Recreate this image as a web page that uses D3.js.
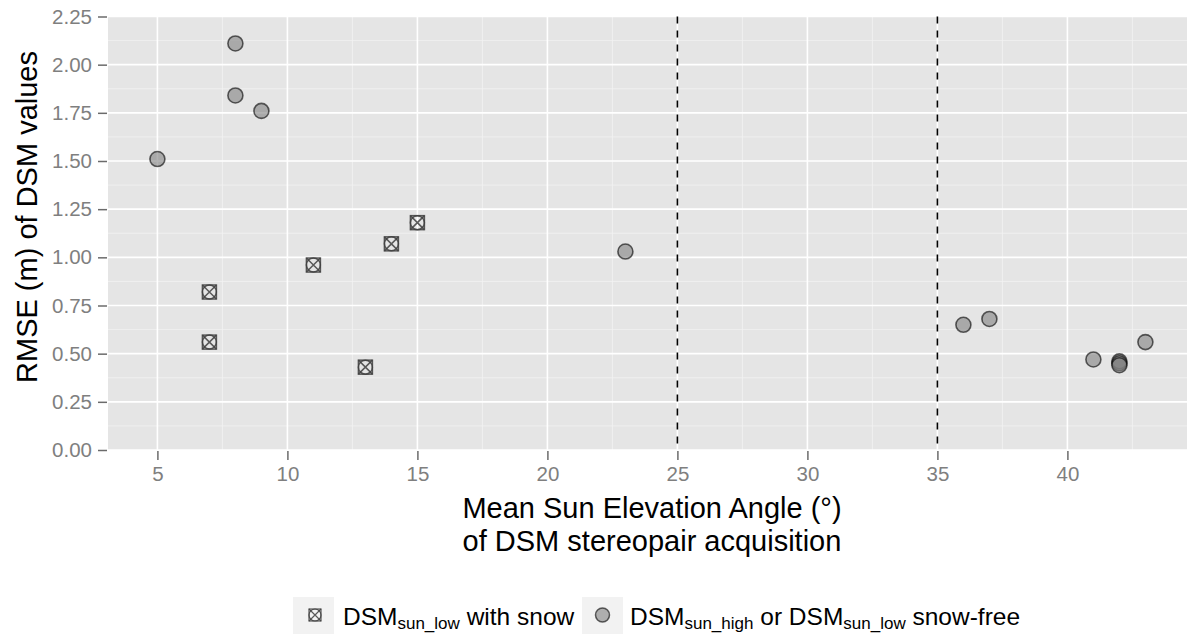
<!DOCTYPE html>
<html>
<head>
<meta charset="utf-8">
<script src="https://cdn.jsdelivr.net/npm/d3@7"></script>
<style>
  body { margin: 0; background: #fff; }
  text { font-family: "Liberation Sans", Arial, sans-serif; }
</style>
</head>
<body>
<svg width="1187" height="634"></svg>
<script>
// data
const snowX = [7, 7, 11, 13, 14, 15];
const snowY = [0.82, 0.56, 0.96, 0.43, 1.07, 1.18];
const freeX = [5, 8, 8, 9, 23, 36, 37, 41, 42, 42, 42, 43];
const freeY = [1.51, 2.11, 1.84, 1.76, 1.03, 0.65, 0.68, 0.47, 0.46, 0.45, 0.44, 0.56];
const xTicks = [5, 10, 15, 20, 25, 30, 35, 40];
const yTicks = [0, 0.25, 0.5, 0.75, 1, 1.25, 1.5, 1.75, 2, 2.25];
const vLines = [25, 35];

const svg = d3.select("svg");
const pLeft = 108, pRight = 1187, pTop = 16.5, pBottom = 450;

const x = d3.scaleLinear().domain([3.1, 44.6]).range([pLeft, pRight]);
const y = d3.scaleLinear().domain([0, 2.25]).range([pBottom, pTop]);

// panel
svg.append("rect")
  .attr("x", pLeft).attr("y", pTop)
  .attr("width", pRight - pLeft).attr("height", pBottom - pTop)
  .attr("fill", "#e5e5e5");

// minor grid
const xMinor = d3.range(2.5, 45, 5).filter(v => v > 3.1 && v < 44.6);
const yMinor = d3.range(0.125, 2.25, 0.25);
svg.append("g").selectAll("line").data(xMinor).enter().append("line")
  .attr("x1", d => x(d)).attr("x2", d => x(d))
  .attr("y1", pTop).attr("y2", pBottom)
  .attr("stroke", "#f2f2f2").attr("stroke-width", 0.8);
svg.append("g").selectAll("line").data(yMinor).enter().append("line")
  .attr("y1", d => y(d)).attr("y2", d => y(d))
  .attr("x1", pLeft).attr("x2", pRight)
  .attr("stroke", "#f2f2f2").attr("stroke-width", 0.8);

// major grid
svg.append("g").selectAll("line").data(xTicks).enter().append("line")
  .attr("x1", d => x(d)).attr("x2", d => x(d))
  .attr("y1", pTop).attr("y2", pBottom)
  .attr("stroke", "#fff").attr("stroke-width", 1.6);
svg.append("g").selectAll("line").data(yTicks).enter().append("line")
  .attr("y1", d => y(d)).attr("y2", d => y(d))
  .attr("x1", pLeft).attr("x2", pRight)
  .attr("stroke", "#fff").attr("stroke-width", 1.6);

// axes
const xAxis = svg.append("g")
  .attr("transform", `translate(0,${pBottom})`)
  .call(d3.axisBottom(x).tickValues(xTicks).tickSize(10).tickPadding(6).tickFormat(d3.format("d")));
const yAxis = svg.append("g")
  .attr("transform", `translate(${pLeft},0)`)
  .call(d3.axisLeft(y).tickValues(yTicks).tickSize(10).tickPadding(6).tickFormat(d3.format(".2f")));
[xAxis, yAxis].forEach(g => {
  g.select(".domain").remove();
  g.selectAll(".tick line").attr("stroke", "#6b6b6b").attr("stroke-width", 1.5);
  g.selectAll(".tick text").attr("fill", "#7f7f7f")
    .style("font-family", "'Liberation Sans', Arial, sans-serif")
    .style("font-size", "20.5px");
});
xAxis.selectAll(".tick line").attr("y1", 1);
yAxis.selectAll(".tick line").attr("x1", -1);

// reference lines
svg.append("g").selectAll("line").data(vLines).enter().append("line")
  .attr("x1", d => x(d)).attr("x2", d => x(d))
  .attr("y1", pTop).attr("y2", pBottom)
  .attr("stroke", "#000").attr("stroke-width", 1.6)
  .attr("stroke-dasharray", "7,7");

// snow symbols: square with cross and circle
function crossBox(g, s) {
  g.append("rect").attr("x", -s).attr("y", -s).attr("width", 2 * s).attr("height", 2 * s)
    .attr("fill", "none");
  g.append("path").attr("d", `M${-s},${-s}L${s},${s}M${-s},${s}L${s},${-s}`);
  g.append("circle").attr("r", s).attr("fill", "none");
}

const snow = svg.append("g")
  .attr("stroke", "#404040").attr("stroke-width", 1.5).attr("stroke-opacity", 0.85)
  .selectAll("g").data(snowX.map((d, i) => [d, snowY[i]])).enter().append("g")
  .attr("transform", d => `translate(${x(d[0])},${y(d[1])})`);
snow.each(function () { crossBox(d3.select(this), 7); });

// snow-free circles
svg.append("g").selectAll("circle").data(freeX.map((d, i) => [d, freeY[i]])).enter().append("circle")
  .attr("cx", d => x(d[0])).attr("cy", d => y(d[1]))
  .attr("r", 7.5)
  .attr("fill", "#808080").attr("fill-opacity", 0.6)
  .attr("stroke", "#000").attr("stroke-opacity", 0.6).attr("stroke-width", 1.6);

// axis titles
const xt = svg.append("text")
  .attr("text-anchor", "middle").attr("font-size", 29).attr("fill", "#000");
xt.append("tspan").attr("x", 652).attr("y", 518).text("Mean Sun Elevation Angle (°)");
xt.append("tspan").attr("x", 652).attr("y", 551).text("of DSM stereopair acquisition");

svg.append("text")
  .attr("transform", "translate(37,217) rotate(-90)")
  .attr("text-anchor", "middle").attr("font-size", 29).attr("fill", "#000")
  .text("RMSE (m) of DSM values");

// legend
const legend = svg.append("g");
legend.append("rect").attr("x", 293).attr("y", 597).attr("width", 41).attr("height", 37).attr("fill", "#f2f2f2");
const k1 = legend.append("g").attr("transform", "translate(315,615)")
  .attr("stroke", "#404040").attr("stroke-width", 1.2).attr("stroke-opacity", 0.85);
crossBox(k1, 6);
const t1 = legend.append("text").attr("x", 343).attr("y", 625).attr("font-size", 24.5).attr("fill", "#000");
t1.append("tspan").text("DSM");
t1.append("tspan").attr("font-size", 17).attr("dy", 4).text("sun_low");
t1.append("tspan").attr("dy", -4).text(" with snow");

legend.append("rect").attr("x", 582).attr("y", 597).attr("width", 41).attr("height", 37).attr("fill", "#f2f2f2");
legend.append("circle").attr("cx", 602.5).attr("cy", 615).attr("r", 7)
  .attr("fill", "#808080").attr("fill-opacity", 0.6)
  .attr("stroke", "#000").attr("stroke-opacity", 0.6).attr("stroke-width", 1.5);
const t2 = legend.append("text").attr("x", 630).attr("y", 625).attr("font-size", 24.5).attr("fill", "#000");
t2.append("tspan").text("DSM");
t2.append("tspan").attr("font-size", 17).attr("dy", 4).text("sun_high");
t2.append("tspan").attr("dy", -4).text(" or DSM");
t2.append("tspan").attr("font-size", 17).attr("dy", 4).text("sun_low");
t2.append("tspan").attr("dy", -4).text(" snow-free");
</script>
</body>
</html>
